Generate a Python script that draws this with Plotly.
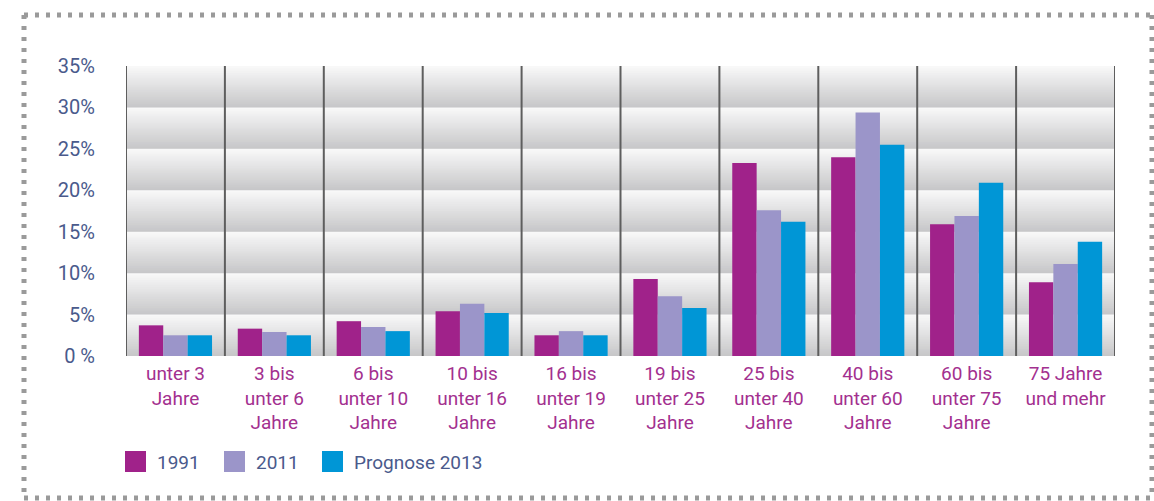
import plotly.graph_objects as go

categories = ["unter 3<br>Jahre", "3 bis<br>unter 6<br>Jahre", "6 bis<br>unter 10<br>Jahre",
              "10 bis<br>unter 16<br>Jahre", "16 bis<br>unter 19<br>Jahre", "19 bis<br>unter 25<br>Jahre",
              "25 bis<br>unter 40<br>Jahre", "40 bis<br>unter 60<br>Jahre", "60 bis<br>unter 75<br>Jahre",
              "75 Jahre<br>und mehr"]
series_names = ["1991", "2011", "Prognose 2013"]
v1991 = [3.7, 3.3, 4.2, 5.4, 2.5, 9.3, 23.3, 24.0, 15.9, 8.9]
v2011 = [2.5, 2.9, 3.5, 6.3, 3.0, 7.2, 17.6, 29.4, 16.9, 11.1]
v2013 = [2.5, 2.5, 3.0, 5.2, 2.5, 5.8, 16.2, 25.5, 20.9, 13.8]
y_ticks = [0, 5, 10, 15, 20, 25, 30, 35]
y_tick_labels = ["0 %", "5%", "10%", "15%", "20%", "25%", "30%", "35%"]

colors = ["#a0228a", "#9b95c9", "#0096d6"]
tick_color = "#4a5a8c"
cat_color = "#a3308f"

W, H = 1154, 501
PL, PR, PT, PB = 126, 1115, 66, 356  # plot area in pixels
L, T, R, B = PL, PT, W - PR, H - PB
pw, ph = PR - PL, PB - PT

fy = dict(family="Roboto", size=20, color=tick_color)
fc = dict(family="Roboto", size=19, color=cat_color)
fl = dict(family="Roboto", size=19, color=tick_color)

xs = list(range(len(categories)))
fig = go.Figure()
for name, vals, c in zip(series_names, [v1991, v2011, v2013], colors):
    fig.add_trace(go.Bar(x=xs, y=vals, name=name, marker=dict(color=c, line=dict(width=0)),
                         showlegend=False, hoverinfo="skip"))

shapes = []
def mix(a, b, t):
    a = [int(a[i:i+2], 16) for i in (1, 3, 5)]
    b = [int(b[i:i+2], 16) for i in (1, 3, 5)]
    return "#%02x%02x%02x" % tuple(round(a[k] + (b[k] - a[k]) * t) for k in range(3))

dark, light = "#c6c6c8", "#f9f9f9"
steps = 24
for lo, hi in zip(y_ticks[:-1], y_ticks[1:]):
    for s in range(steps):
        y0 = lo + (hi - lo) * s / steps
        t = (s + 0.5) / steps
        shapes.append(dict(type="rect", xref="x", yref="y", x0=-0.5, x1=len(categories) - 0.5,
                           y0=y0, y1=hi, fillcolor=mix(dark, light, t), line=dict(width=0),
                           layer="below"))
for i in range(len(categories) + 1):
    shapes.append(dict(type="line", xref="x", yref="y", x0=i - 0.5, x1=i - 0.5, y0=0, y1=y_ticks[-1],
                       line=dict(color="#5e5e5e", width=2), layer="above"))

def px(x):
    return (x - PL) / pw
def py(y):
    return (PB - y) / ph

dot = dict(color="#9a9a9a", width=5, dash="4px,7px")
fx0, fx1, fy0, fy1 = 24, 1152, 15, 498
shapes += [
    dict(type="line", xref="paper", yref="paper", x0=px(fx0), x1=px(fx1), y0=py(fy0), y1=py(fy0), line=dot),
    dict(type="line", xref="paper", yref="paper", x0=px(fx0), x1=px(fx0), y0=py(fy0), y1=py(fy1), line=dot),
    dict(type="line", xref="paper", yref="paper", x0=px(fx1), x1=px(fx1), y0=py(fy0), y1=py(fy1), line=dot),
    dict(type="line", xref="paper", yref="paper", x0=px(fx0), x1=px(fx1), y0=py(fy1), y1=py(fy1), line=dot),
]

annotations = []
leg_x = [125, 224, 322]
for name, c, lx in zip(series_names, colors, leg_x):
    shapes.append(dict(type="rect", xref="paper", yref="paper", x0=px(lx), x1=px(lx + 21),
                       y0=py(472), y1=py(451), fillcolor=c, line=dict(width=0)))
    annotations.append(dict(xref="paper", yref="paper", x=px(lx + 30), y=py(462), text=name,
                            showarrow=False, xanchor="left", yanchor="middle", font=fl))

fig.update_layout(
    width=W, height=H, margin=dict(l=L, r=R, t=T, b=B, autoexpand=False),
    paper_bgcolor="white", plot_bgcolor="white",
    barmode="group", bargap=0.26, bargroupgap=0,
    shapes=shapes, annotations=annotations,
    xaxis=dict(range=[-0.5, len(categories) - 0.5], tickvals=xs, ticktext=categories,
               showgrid=False, zeroline=False, showline=False, ticks="",
               ticklabelstandoff=4, tickfont=fc, fixedrange=True),
    yaxis=dict(range=[0, y_ticks[-1]], tickvals=y_ticks, ticktext=y_tick_labels,
               showgrid=False, zeroline=False, showline=False, ticks="",
               ticklabelstandoff=30, tickfont=fy, fixedrange=True),
    showlegend=False,
)

fig.write_html("out.html", config={"displayModeBar": False},
               post_script="document.body.style.margin='0';document.body.style.overflow='hidden';")
